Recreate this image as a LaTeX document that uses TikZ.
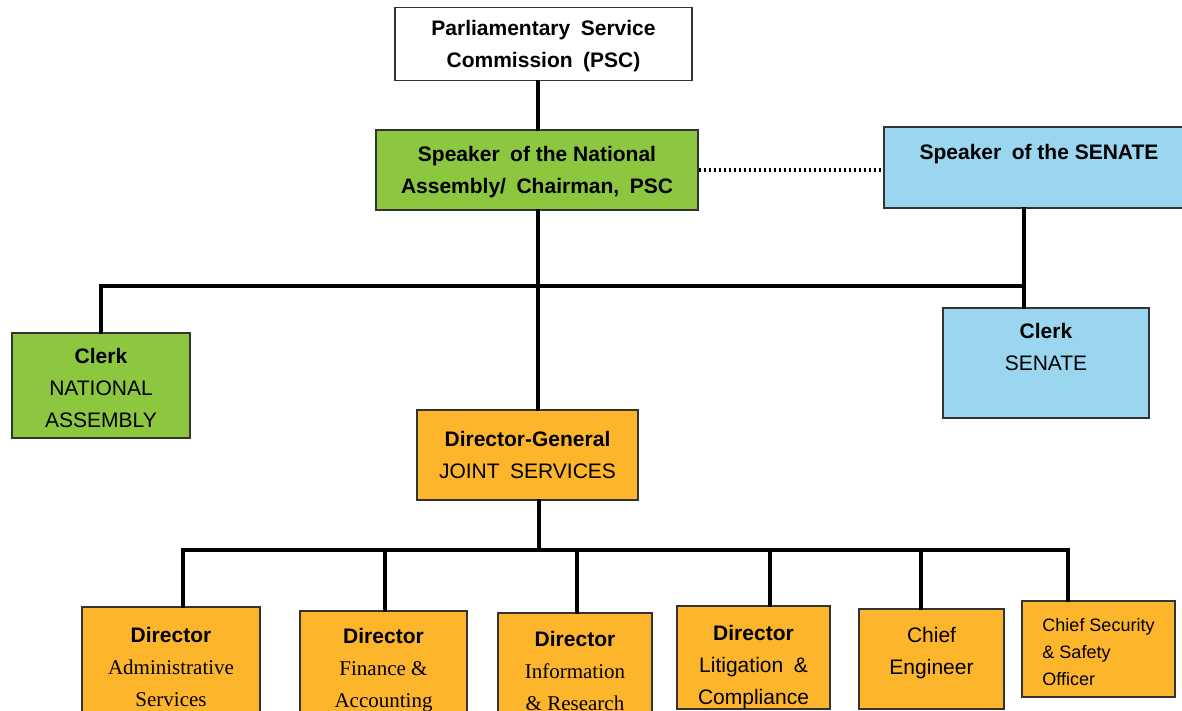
\documentclass[tikz,border=0pt]{standalone}
\usepackage{fontspec}
\setsansfont{Liberation Sans}
\newfontfamily\serifrm{Liberation Serif}
\usepackage{xcolor}
\definecolor{nagreen}{HTML}{8DC63F}
\definecolor{senblue}{HTML}{9AD6F0}
\definecolor{jsorange}{HTML}{FDB52B}

\tikzset{
	unit/.style={draw=black!80, line width=1.3pt, align=center, inner sep=0pt,
		font=\sffamily\fontsize{21}{32}\selectfont},
	greenunit/.style={unit, fill=nagreen},
	blueunit/.style={unit, fill=senblue},
	orangeunit/.style={unit, fill=jsorange},
	link/.style={line width=3.2pt, line cap=rect},
}

\begin{document}
\begin{tikzpicture}[x=1pt, y=-1pt]
			\useasboundingbox (0,0) rectangle (1182,711);
			\clip (0,0) rectangle (1182,711);

			\def\upbus{286};
			\def\lowbus{550};

			\node[unit, fill=white, minimum width=297pt, minimum height=73pt] (psc) at (543.5,44)
				{\rule{0pt}{20pt}\textbf{Parliamentary\enspace Service}\\\textbf{Commission\enspace (PSC)}};
			\node[greenunit, minimum width=322pt, minimum height=80pt] (spna) at (537,170)
				{\rule{0pt}{19pt}\textbf{Speaker\enspace of the National}\\\textbf{Assembly/\enspace Chairman,\enspace PSC}};
			\node[blueunit, minimum width=310pt, minimum height=81pt] (spsen) at (1039,167.5)
				{\textbf{Speaker\enspace of the SENATE}\\\mbox{}};

			\node[greenunit, minimum width=178pt, minimum height=105pt] (clna) at (101,385.5)
				{\rule{0pt}{21pt}\textbf{Clerk}\\NATIONAL\\ASSEMBLY};
			\node[blueunit, minimum width=206pt, minimum height=110pt] (clsen) at (1046,363)
				{\textbf{Clerk}\\SENATE\\\mbox{}};
			\node[orangeunit, minimum width=221pt, minimum height=90pt] (dg) at (527.5,455)
				{\textbf{Director-General}\\JOINT\enspace SERVICES};

			\node[orangeunit, minimum width=178pt, minimum height=120pt] (adm) at (171,667)
				{\textbf{Director}\\{\serifrm Administrative}\\{\serifrm Services}};
			\node[orangeunit, minimum width=167pt, minimum height=118pt] (fin) at (383.5,670)
				{\textbf{Director}\\{\serifrm Finance \&}\\{\serifrm Accounting}};
			\node[orangeunit, minimum width=154pt, minimum height=116pt] (inf) at (575,671)
				{\textbf{Director}\\{\serifrm Information}\\{\serifrm \& Research}};
			\node[orangeunit, minimum width=153pt, minimum height=103pt] (lit) at (753.5,657.5)
				{\rule{0pt}{34pt}\textbf{Director}\\Litigation\enspace\&\\Compliance};
			\node[orangeunit, minimum width=145pt, minimum height=100pt] (eng) at (931.5,659)
				{Chief\\Engineer\rule[-16pt]{0pt}{16pt}};
			\node[orangeunit, align=left, minimum width=153pt, minimum height=96pt,
				font=\sffamily\fontsize{18}{27}\selectfont] (sec) at (1098.5,649)
				{\rule{0pt}{19pt}Chief Security\\\& Safety\\Officer};

			\coordinate (pscjoint) at (538,0);
			\coordinate (senjoint) at (1024,\upbus);
			\coordinate (dgjoint) at (539,\lowbus);

			\draw[link] (psc.south -| pscjoint) -- (spna.north -| pscjoint);
			\draw[link] (spna.south -| pscjoint) -- (dg.north -| pscjoint);
			\draw[link] (dg.south -| dgjoint) -- (dgjoint);
			\draw[link, line cap=butt, dash pattern=on 2.5pt off 2.5pt]
				(spna.east) -- (spna.east -| spsen.west);

			\draw[link] (clna.north) |- (senjoint);
			\draw[link] (spsen.south -| senjoint) -- (clsen.north -| senjoint);

			\coordinate (drop1) at (183,\lowbus);
			\coordinate (drop6) at (1068,\lowbus);
			\draw[link] (drop1) -- (drop6);
			\foreach \unitname/\x in {adm/183, fin/385, inf/577, lit/770, eng/921, sec/1068}
				\draw[link] (\x,\lowbus) -- (\unitname.north -| \x,\lowbus);
		\end{tikzpicture}
\end{document}
